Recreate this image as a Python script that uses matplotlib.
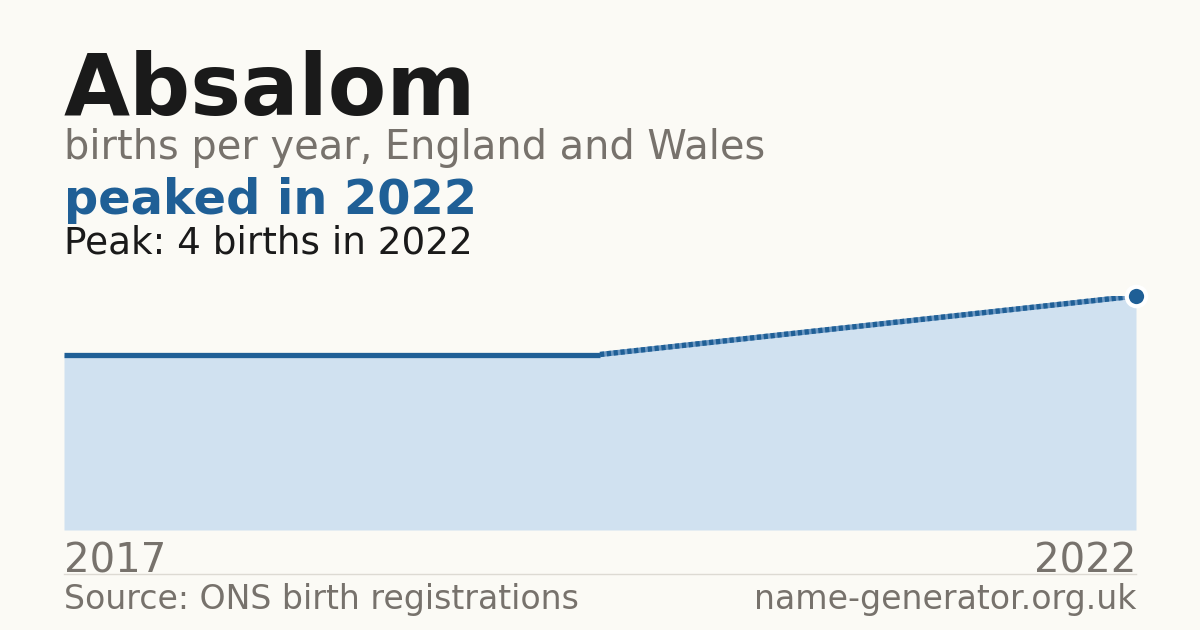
import matplotlib
matplotlib.use("Agg")
import matplotlib.pyplot as plt
from matplotlib.lines import Line2D

# data: ONS only publishes counts of 3 or more, so some years are missing
years = [2017, 2018, 2022]
births = [3, 3, 4]
name = "Absalom"

BG = "#fbfaf5"
BLUE = "#1f5f96"
FILL = "#d0e1f0"
GREY = "#77726c"
DARK = "#1a1a1a"

W, H = 1200, 630
fig = plt.figure(figsize=(12, 6.3), dpi=100, facecolor=BG)

def fx(px):
    return px / W

def fy(px):
    return 1 - px / H

# plot area: x 64..1136, y 296 (peak) .. 530 (zero)
ax = fig.add_axes([fx(64), fy(530), fx(1136 - 64), (530 - 296) / H])
ax.set_facecolor(BG)
idx = list(range(len(years)))

ax.fill_between(idx, births, 0, color=FILL, lw=0)
# consecutive years solid, gaps dashed
for i in range(len(years) - 1):
    seg_x = [idx[i], idx[i + 1]]
    seg_y = [births[i], births[i + 1]]
    if years[i + 1] - years[i] == 1:
        ax.plot(seg_x, seg_y, color=BLUE, lw=3.8, solid_capstyle="butt")
    else:
        ax.plot(seg_x, seg_y, color="#6b97c2", lw=3.8, solid_capstyle="butt")
        ax.plot(seg_x, seg_y, color=BLUE, lw=3.8, dashes=(0.8, 0.5),
                dash_capstyle="butt")

peak = births.index(max(births))
ax.plot(idx[peak], births[peak], "o", ms=14, color=BLUE, mec="white",
        mew=3, clip_on=False, zorder=5)

ax.set_xlim(idx[0], idx[-1])
ax.set_ylim(0, max(births))
for s in ax.spines.values():
    s.set_visible(False)
ax.set_yticks([])
ax.set_xticks([idx[0], idx[-1]])
ax.set_xticklabels([str(years[0]), str(years[-1])], fontsize=29, color=GREY)
ax.tick_params(axis="x", length=0, pad=8)
labs = ax.get_xticklabels()
labs[0].set_ha("left")
labs[-1].set_ha("right")

# header texts
fig.text(fx(64), fy(115), name, fontsize=61.5, fontweight="bold", color=DARK,
         va="baseline")
fig.text(fx(64), fy(159), "births per year, England and Wales", fontsize=28.7,
         color=GREY, va="baseline")
fig.text(fx(64), fy(214), f"peaked in {years[peak]}", fontsize=34.5,
         fontweight="bold", color=BLUE, va="baseline")
fig.text(fx(64), fy(253), f"Peak: {births[peak]} births in {years[peak]}",
         fontsize=26.9, color=DARK, va="baseline")

# footer
fig.add_artist(Line2D([fx(64), fx(1136)], [fy(574), fy(574)], color="#dddad3",
                      lw=1))
fig.text(fx(64), fy(609), "Source: ONS birth registrations", fontsize=23.9,
         color=GREY, va="baseline")
fig.text(fx(1136), fy(609), "name-generator.org.uk", fontsize=23.9,
         color=GREY, va="baseline", ha="right")

fig.savefig("out.png", dpi=100, facecolor=BG)
